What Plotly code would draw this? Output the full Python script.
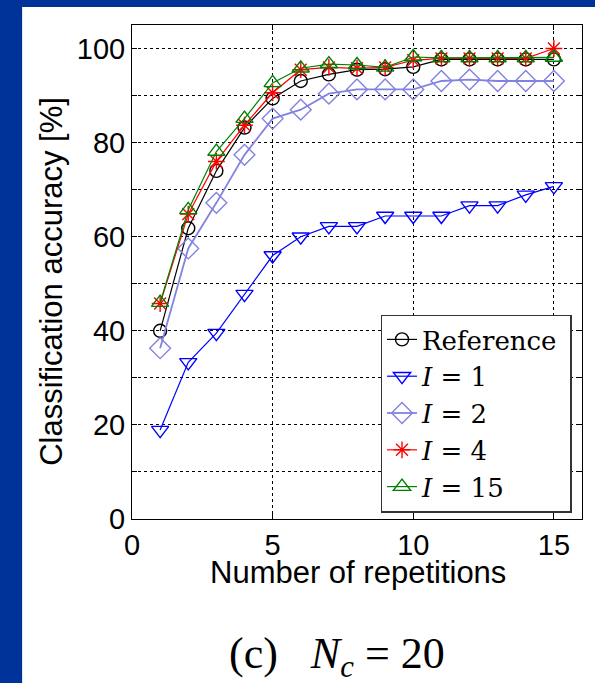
import plotly.graph_objects as go

repetitions = list(range(1, 16))
acc_reference = [40.0, 61.8, 74.0, 83.2, 89.4, 93.1, 94.5, 95.5, 95.6, 96.1, 97.7, 97.7, 97.7, 97.7, 97.7]
acc_i1 = [18.9, 33.3, 39.5, 47.8, 56.0, 60.0, 62.2, 62.2, 64.4, 64.4, 64.4, 66.6, 66.6, 68.9, 70.7]
acc_i2 = [36.3, 57.5, 67.2, 77.4, 85.1, 87.0, 90.4, 91.3, 91.3, 91.3, 93.1, 93.4, 93.1, 93.1, 93.1]
acc_i4 = [45.8, 64.8, 76.0, 83.7, 90.6, 95.5, 96.0, 95.8, 96.0, 97.5, 97.9, 97.9, 97.9, 97.9, 100.0]
acc_i15 = [46.0, 65.7, 78.1, 85.1, 92.7, 95.8, 96.7, 96.5, 96.0, 98.2, 98.0, 98.0, 98.0, 98.0, 98.1]

series_names = ["Reference&nbsp;", "<i>I</i> = 1", "<i>I</i> = 2", "<i>I</i> = 4", "<i>I</i> = 15"]
x_tickvals = [0, 5, 10, 15]
y_tickvals = [0, 10, 20, 30, 40, 50, 60, 70, 80, 90, 100]
y_ticktext = ["0", "", "20", "", "40", "", "60", "", "80", "", "100"]

W, H = 595, 683
L, R, T, B = 132, 12.5, 25, 163.5
pw, ph = W - L - R, H - T - B

def px_x(p):
    return (p - L) / pw

def px_y(p):
    return (H - B - p) / ph

styles = [
    dict(color="black", symbol="circle-open", size=13, width=1.2),
    dict(color="#0000ff", symbol="triangle-down-open", size=15, width=1.2),
    dict(color="rgb(130,130,225)", symbol="diamond-open", size=16, width=1.8),
    dict(color="#ff0000", symbol="asterisk-open", size=14, width=1.2),
    dict(color="#008000", symbol="triangle-up-open", size=15, width=1.2),
]
data = [acc_reference, acc_i1, acc_i2, acc_i4, acc_i15]

fig = go.Figure()
for name, ys, st in zip(series_names, data, styles):
    fig.add_trace(go.Scatter(
        x=repetitions, y=ys, name=name, mode="lines+markers",
        line=dict(color=st["color"], width=st["width"]),
        marker=dict(symbol=st["symbol"], size=st["size"], color=st["color"],
                    line=dict(color=st["color"], width=1.4)),
    ))

axis_common = dict(
    showline=True, linecolor="black", linewidth=1, mirror="ticks",
    ticks="inside", ticklen=5, tickcolor="black",
    showgrid=True, gridcolor="black", gridwidth=1, griddash="dot",
    zeroline=False,
    tickfont=dict(family="Liberation Sans, Arial", size=29, color="black"),
)

fig.update_layout(
    width=W, height=H,
    margin=dict(l=L, r=R, t=T, b=B),
    paper_bgcolor="#003399",
    plot_bgcolor="white",
    xaxis=dict(range=[0, 16], tickvals=x_tickvals, **axis_common),
    yaxis=dict(range=[0, 105], tickvals=y_tickvals, ticktext=y_ticktext, **axis_common),
    legend=dict(
        x=px_x(572), y=px_y(513), xanchor="right", yanchor="bottom",
        bgcolor="white", bordercolor="#333333", borderwidth=1.5,
        font=dict(family="DejaVu Serif, Liberation Serif", size=26, color="black"),
        tracegroupgap=0, itemwidth=30,
    ),
    shapes=[dict(type="rect", xref="paper", yref="paper",
                 x0=px_x(22), x1=px_x(600), y0=px_y(7), y1=px_y(690),
                 fillcolor="white", line=dict(width=0), layer="below")],
    annotations=[
        dict(text="Classification accuracy [%]", xref="paper", yref="paper",
             x=px_x(52), y=px_y(282), xanchor="center", yanchor="middle",
             textangle=-90, showarrow=False,
             font=dict(family="Liberation Sans, Arial", size=31, color="black")),
        dict(text="Number of repetitions", xref="paper", yref="paper",
             x=px_x(358), y=px_y(573), xanchor="center", yanchor="middle",
             showarrow=False,
             font=dict(family="Liberation Sans, Arial", size=31, color="black")),
        dict(text="(c)&nbsp;&nbsp;&nbsp;<i>N</i><sub><i>c</i></sub>&nbsp;=&nbsp;20",
             xref="paper", yref="paper",
             x=px_x(337), y=px_y(657), xanchor="center", yanchor="middle",
             showarrow=False,
             font=dict(family="Liberation Serif, DejaVu Serif", size=44, color="black")),
    ],
)

fig.write_html("out.html")
